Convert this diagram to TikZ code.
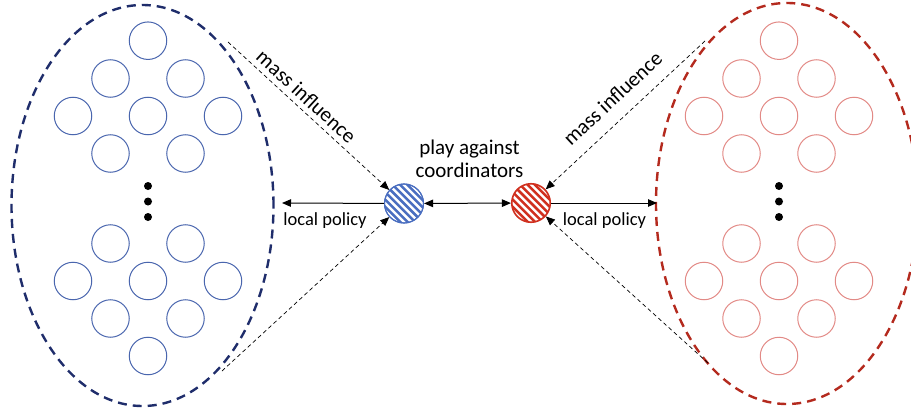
\documentclass[tikz,border=0pt]{standalone}
\usepackage{fontspec}
\setmainfont{Carlito}
\usetikzlibrary{arrows.meta,calc,shapes.geometric}
\definecolor{navyc}{HTML}{1F2D6B}
\definecolor{darkredc}{HTML}{B42A1E}
\definecolor{agentblue}{HTML}{4A66AE}
\definecolor{agentred}{HTML}{E28A86}
\definecolor{hatchblue}{HTML}{4A6EC0}
\definecolor{hatchred}{HTML}{D0301F}
\tikzset{
  groupell/.style={ellipse, draw=#1, line width=2.4pt, dash pattern=on 9pt off 6pt, minimum width=262pt, minimum height=401pt, inner sep=0pt},
  agent/.style={circle, draw=#1, line width=1pt, minimum size=37.5pt, inner sep=0pt},
  dotn/.style={circle, fill=black, minimum size=8pt, inner sep=0pt},
  coord/.style={circle, draw=#1, line width=1.1pt, minimum size=39pt, inner sep=0pt},
  infl/.style={dash pattern=on 4pt off 3pt, line width=0.7pt, -{Triangle[length=9pt,width=7.5pt]}},
  pol/.style={line width=1pt, -{Triangle[length=9pt,width=7.5pt]}},
  labtxt/.style={font=\fontsize{18.5}{22}\selectfont},
  inftxt/.style={font=\fontsize{21}{24}\selectfont},
}
\begin{document}
\begin{tikzpicture}[x=1pt,y=-1pt]
\useasboundingbox (0,0) rectangle (911,412);
\clip (0,0) rectangle (911,412);

% group ellipses
\node[groupell=navyc] (lell) at (142.5,205.5) {};
\node[groupell=darkredc] (rell) at (787,203.5) {};

% agents
\foreach \side/\cx/\col in {L/148/agentblue, R/779/agentred}{
  \foreach \n/\dx/\y in {a/0/40.7, b/-37.5/78.5, c/37.5/78.5, d/-75/116, e/0/116, f/75/116, g/-37.5/153.5, h/37.5/153.5,
                        i/-37.5/243.5, j/37.5/243.5, k/-75/281, l/0/281, m/75/281, n/-37.5/318.5, o/37.5/318.5, p/0/356}{
    \node[agent=\col] (\side\n) at (\cx+\dx,\y) {};
  }
  \node[dotn] (\side dot1) at (\cx,186) {};
  \node[dotn] (\side dot2) at (\cx,201.5) {};
  \node[dotn] (\side dot3) at (\cx,217) {};
}

% coordinators
\node[coord=hatchblue] (bc) at (404,203.5) {};
\node[coord=hatchred] (rc) at (531,203) {};
\begin{scope}
  \clip (bc.center) circle[radius=19.5pt];
  \foreach \k in {-6,...,6}{
    \draw[hatchblue, line width=2.5pt] ($(bc.center)+(\k*3.7-24,-\k*3.7-24)$) -- ($(bc.center)+(\k*3.7+24,-\k*3.7+24)$);
  }
\end{scope}
\begin{scope}
  \clip (rc.center) circle[radius=19pt];
  \foreach \k in {-6,...,6}{
    \draw[hatchred, line width=2.5pt] ($(rc.center)+(\k*3.7-24,-\k*3.7-24)$) -- ($(rc.center)+(\k*3.7+24,-\k*3.7+24)$);
  }
\end{scope}
\draw[hatchblue, line width=1.1pt] (bc.center) circle[radius=19.5pt];
\draw[hatchred, line width=1.1pt] (rc.center) circle[radius=19pt];

% text
\node[align=center, font=\fontsize{21}{23}\selectfont] (pa) at (469.5,159) {play against\\coordinators};
\node[labtxt] (lpl) at (325,221) {local policy};
\node[labtxt] (lpr) at (604.5,221) {local policy};
\node[inftxt, rotate=-42.5] (mil) at (306.5,96.5) {mass influence};
\node[inftxt, rotate=43] (mir) at (612.5,98.5) {mass influence};

% connector end points
\coordinate (lt) at (228,42);
\coordinate (lb) at (222,371);
\coordinate (rt) at (705,41);
\coordinate (rb) at (708,363);
\coordinate (lp) at (282,203);
\coordinate (rp) at (657,203);

% connectors
\draw[infl] (lt) -- (bc);
\draw[infl] (lb) -- (bc);
\draw[infl] (rt) -- (rc);
\draw[infl] (rb) -- (rc);
\draw[pol] (bc) -- (lp);
\draw[pol] (rc) -- (rp);
\draw[line width=1pt, {Triangle[length=9pt,width=7.5pt]}-{Triangle[length=9pt,width=7.5pt]}] (bc) -- (rc);
\end{tikzpicture}
\end{document}
